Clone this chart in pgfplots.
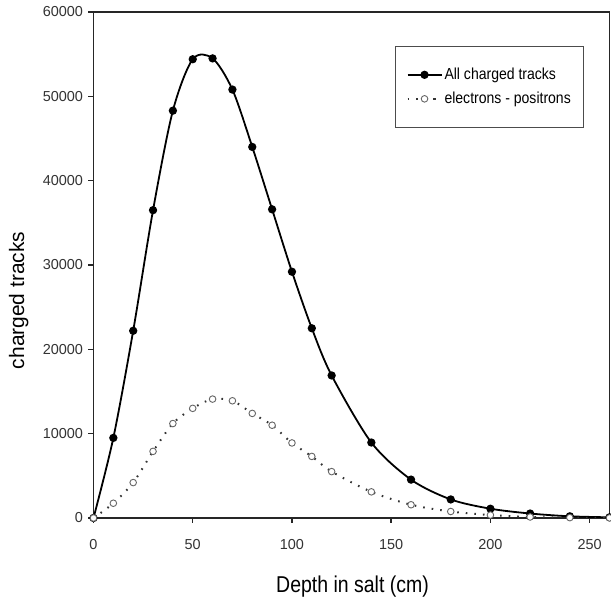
\documentclass[border=0pt]{standalone}
\usepackage{fontspec}
\setmainfont{Liberation Sans}
\newfontfamily\xlabfont[FakeStretch=0.85]{Liberation Sans}
\newfontfamily\legfont[FakeStretch=0.88]{Liberation Sans}
\usepackage{pgfplots}
\pgfplotsset{compat=1.18}

\pgfplotstableread{
x y
0 0
10 9500
20 22200
30 36500
40 48300
50 54400
60 54500
70 50800
80 44000
90 36600
100 29200
110 22500
120 16900
140 8950
160 4550
180 2200
200 1100
220 530
240 200
260 80
}\alltracks

\pgfplotstableread{
x y
0 0
10 1750
20 4200
30 7900
40 11200
50 13000
60 14100
70 13900
80 12400
90 11000
100 8900
110 7300
120 5500
140 3100
160 1570
180 770
200 350
220 120
240 40
260 10
}\electrons

\begin{document}
\begin{tikzpicture}
\begin{axis}[
  scale only axis, width=516bp, height=506bp,
  xmin=0, xmax=260, ymin=0, ymax=60000,
  xtick={0,50,100,150,200,250},
  ytick={0,10000,20000,30000,40000,50000,60000},
  scaled y ticks=false,
  /pgf/number format/assume math mode=true,
  yticklabel style={/pgf/number format/1000 sep={}},
  tick pos=left,
  tick align=outside,
  major tick length=5bp,
  axis line style={line width=1.4bp, black!85},
  every tick/.style={line width=1.4bp, black!85},
  ticklabel style={font=\fontsize{14.5}{16}\selectfont, text=black!80},
  xticklabel style={yshift=-13bp},
  yticklabel style={xshift=-2bp},
  xlabel={Depth in salt (cm)},
  ylabel={charged tracks},
  xlabel style={at={(axis description cs:0.502,-0.136)}, anchor=center, font=\fontsize{23}{26}\selectfont\xlabfont},
  ylabel style={at={(axis description cs:-0.145,0.43)}, anchor=center, font=\fontsize{21}{24}\selectfont},
  legend style={at={(axis description cs:0.951,0.933)}, anchor=north east,
    draw=black!70, line width=0.8bp, font=\fontsize{16}{18}\selectfont\legfont,
    inner xsep=11bp, inner ysep=20bp, row sep=7bp, cells={anchor=west}},
  legend image code/.code={
    \draw[mark repeat=2,mark phase=2,#1] plot coordinates {(0bp,0bp) (17bp,0bp) (34bp,0bp)};
  },
]
\addplot[black, line width=1.8bp, smooth, mark=*, mark size=3.2bp, mark options={solid, fill=black}] table[x=x,y=y] {\alltracks};
\addlegendentry{All charged tracks}
\addplot[black!80, line width=2bp, smooth, dash pattern=on 1.6bp off 7bp, mark=*, mark size=3.3bp, mark options={solid, fill=white, draw=black!60, line width=0.9bp}] table[x=x,y=y] {\electrons};
\addlegendentry{electrons - positrons}
\end{axis}
\pgfresetboundingbox
\path ([xshift=-93.5bp,yshift=-84bp]current axis.south west) rectangle ([xshift=1.5bp,yshift=12bp]current axis.north east);
\end{tikzpicture}
\end{document}
